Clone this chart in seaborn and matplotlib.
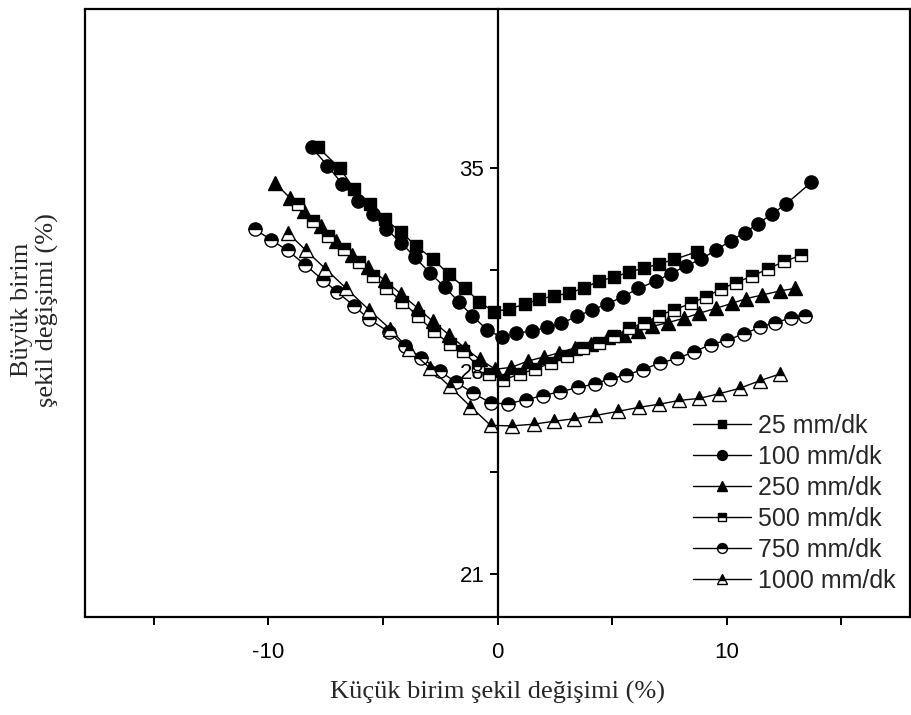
import matplotlib
matplotlib.use("Agg")
import matplotlib.pyplot as plt
from matplotlib.lines import Line2D
from matplotlib.ticker import FixedLocator, NullFormatter
import seaborn as sns

sns.set_style("ticks")
plt.rcParams["font.family"] = ["Liberation Sans", "DejaVu Sans"]

# Küçük birim şekil değişimi (x) ve büyük birim şekil değişimi (y), %
s25_x = [-7.83, -6.88, -6.26, -5.57, -4.92, -4.22, -3.54, -2.82, -2.13, -1.44, -0.81, -0.16,
         0.50, 1.18, 1.80, 2.45, 3.11, 3.79, 4.44, 5.10, 5.75, 6.40, 7.06, 7.71, 8.72]
s25_y = [35.72, 35.00, 34.29, 33.75, 33.24, 32.81, 32.30, 31.87, 31.34, 30.88, 30.39, 30.05,
         30.14, 30.30, 30.47, 30.59, 30.68, 30.87, 31.11, 31.24, 31.42, 31.55, 31.70, 31.85, 32.12]

s100_x = [-8.11, -7.42, -6.78, -6.08, -5.43, -4.85, -4.19, -3.61, -2.96, -2.31, -1.70, -1.10,
          -0.45, 0.18, 0.80, 1.51, 2.16, 2.79, 3.47, 4.12, 4.76, 5.46, 6.15, 6.91, 7.56, 8.22,
          8.90, 9.55, 10.18, 10.79, 11.38, 11.99, 12.57, 13.69]
s100_y = [35.72, 35.09, 34.46, 33.88, 33.41, 32.89, 32.42, 31.93, 31.39, 30.90, 30.39, 29.90,
          29.42, 29.16, 29.31, 29.37, 29.51, 29.65, 29.88, 30.11, 30.30, 30.56, 30.85, 31.10,
          31.36, 31.62, 31.87, 32.18, 32.50, 32.78, 33.09, 33.43, 33.75, 34.51]

s250_x = [-9.71, -9.06, -8.43, -7.71, -7.06, -6.37, -5.65, -4.92, -4.19, -3.47, -2.82, -2.12,
          -1.44, -0.78, -0.10, 0.60, 1.32, 2.02, 2.70, 3.40, 4.08, 4.80, 5.53, 6.11, 6.76, 7.45,
          8.14, 8.80, 9.52, 10.22, 10.86, 11.55, 12.31, 12.98]
s250_y = [34.49, 33.98, 33.52, 33.01, 32.50, 31.99, 31.59, 31.13, 30.64, 30.16, 29.71, 29.25,
          28.80, 28.40, 28.06, 28.12, 28.34, 28.48, 28.63, 28.80, 28.93, 29.16, 29.23, 29.37,
          29.54, 29.67, 29.82, 29.99, 30.16, 30.33, 30.50, 30.62, 30.76, 30.85]

s500_x = [-8.70, -8.04, -7.39, -6.71, -6.05, -5.43, -4.85, -4.15, -3.47, -2.79, -2.09, -1.51,
          -0.86, -0.38, 0.25, 0.96, 1.64, 2.34, 3.02, 3.72, 4.41, 5.10, 5.75, 6.40, 7.03, 7.71,
          8.43, 9.09, 9.74, 10.40, 11.12, 11.82, 12.50, 13.23]
s500_y = [33.75, 33.18, 32.67, 32.21, 31.76, 31.28, 30.85, 30.39, 29.88, 29.37, 28.93, 28.68,
          28.17, 27.89, 27.69, 27.89, 28.06, 28.28, 28.51, 28.80, 28.97, 29.20, 29.48, 29.65,
          29.91, 30.11, 30.33, 30.56, 30.82, 31.05, 31.28, 31.53, 31.78, 31.99]

s750_x = [-10.58, -9.89, -9.16, -8.38, -7.61, -7.00, -6.27, -5.59, -4.73, -4.05, -3.32, -2.53,
          -1.80, -1.05, -0.27, 0.45, 1.23, 1.97, 2.74, 3.52, 4.24, 4.92, 5.61, 6.33, 7.10, 7.85,
          8.58, 9.30, 10.03, 10.76, 11.44, 12.11, 12.79, 13.41]
s750_y = [32.89, 32.53, 32.16, 31.66, 31.13, 30.73, 30.25, 29.78, 29.34, 28.85, 28.46, 28.00,
          27.60, 27.23, 26.88, 26.87, 27.00, 27.15, 27.28, 27.43, 27.55, 27.73, 27.86, 28.04,
          28.28, 28.43, 28.66, 28.91, 29.06, 29.29, 29.50, 29.67, 29.82, 29.91]

s1000_x = [-9.16, -8.36, -7.51, -6.60, -5.61, -4.70, -3.86, -2.96, -2.09, -1.18, -0.30, 0.62,
           1.58, 2.45, 3.35, 4.27, 5.24, 6.16, 7.06, 7.93, 8.80, 9.67, 10.57, 11.44, 12.31]
s1000_y = [32.78, 32.16, 31.53, 30.85, 30.11, 29.46, 28.74, 28.11, 27.47, 26.77, 26.12, 26.10,
           26.16, 26.26, 26.35, 26.46, 26.60, 26.74, 26.85, 26.98, 27.05, 27.21, 27.40, 27.66,
           27.89]

labels = ["25 mm/dk", "100 mm/dk", "250 mm/dk", "500 mm/dk", "750 mm/dk", "1000 mm/dk"]
x_major = [-10, 0, 10]
x_minor = [-15, -5, 5, 15]
y_major = [21, 28, 35]
y_minor = [24.5, 31.5]

series = [
    (s25_x, s25_y, "s", 8.5, "full"),
    (s100_x, s100_y, "o", 9.5, "full"),
    (s250_x, s250_y, "^", 10, "full"),
    (s500_x, s500_y, "s", 8.5, "top"),
    (s750_x, s750_y, "o", 9.5, "top"),
    (s1000_x, s1000_y, "^", 10, "top"),
]

fig = plt.figure(figsize=(9.11, 7.15), dpi=100)
ax = fig.add_axes([85 / 911, 1 - 617 / 715, 825 / 911, 608 / 715])

for (xs, ys, mk, ms, fs), lab in zip(series, labels):
    sns.lineplot(x=xs, y=ys, ax=ax, color="black", linewidth=1.0,
                 marker=mk, markersize=ms, fillstyle=fs,
                 markerfacecolor="black", markerfacecoloralt="white",
                 markeredgecolor="black", markeredgewidth=1.0,
                 sort=False, estimator=None, label=lab, zorder=2)

ax.set_xlim(-18, 18)
ax.set_ylim(19.5, 40.5)

# vertical axis passes through x = 0; the frame is closed by the other spines
ax.spines["left"].set_position(("data", 0))
for side in ["left", "right", "top", "bottom"]:
    ax.spines[side].set_linewidth(1.6)
    ax.spines[side].set_color("black")
    ax.spines[side].set_zorder(6)
ax.add_line(Line2D([0, 0], [0, 1], transform=ax.transAxes, color="black",
                   linewidth=1.6, clip_on=False))

ax.xaxis.set_major_locator(FixedLocator(x_major))
ax.xaxis.set_minor_locator(FixedLocator(x_minor))
ax.yaxis.set_major_locator(FixedLocator(y_major))
ax.yaxis.set_minor_locator(FixedLocator(y_minor))
ax.xaxis.set_minor_formatter(NullFormatter())
ax.yaxis.set_minor_formatter(NullFormatter())
ax.tick_params(axis="both", which="both", direction="out", length=6, width=1.4,
               colors="black", labelsize=16)
ax.tick_params(axis="x", which="major", pad=12)
ax.set_xticklabels([str(v) for v in x_major])
ax.set_yticklabels([str(v) for v in y_major])
# tick labels sit above the curves (the "28" label overlaps the markers)
ax.xaxis.set_zorder(5)
ax.yaxis.set_zorder(5)

ax.set_xlabel("Küçük birim şekil değişimi (%)", family="Liberation Serif", fontsize=19)
ax.xaxis.set_label_coords(0.5, -0.105)
fig.text(35 / 911, 1 - 310 / 715, "Büyük birim\nşekil değişimi (%)",
         family="Liberation Serif", fontsize=19, rotation=90,
         ha="center", va="center", multialignment="center")

ax.legend(loc="upper left", bbox_to_anchor=(693 / 911, 1 - 414 / 715),
          bbox_transform=fig.transFigure, frameon=False, fontsize=18,
          handlelength=2.3, handletextpad=0.3, labelspacing=0.28,
          borderpad=0, borderaxespad=0, markerscale=0.75)

fig.savefig("out.png", dpi=100)
